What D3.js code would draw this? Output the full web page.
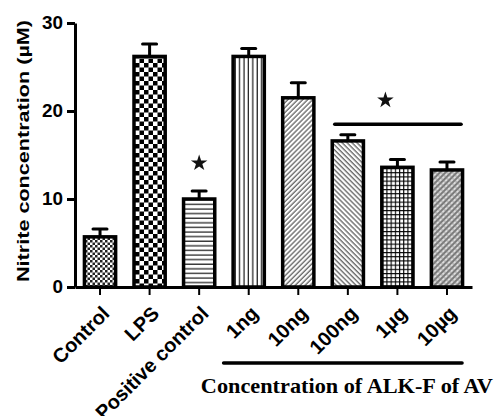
<!DOCTYPE html>
<html>
<head>
<meta charset="utf-8">
<script src="https://cdn.jsdelivr.net/npm/d3@7"></script>
<style>
  body { margin: 0; background: #fff; }
  svg { display: block; }
  .axis text { font-family: "Liberation Sans", Arial, sans-serif; font-weight: bold; fill: #000; }
</style>
</head>
<body>
<div id="chart"></div>
<script>
// data
var categories = ["Control", "LPS", "Positive control", "1ng", "10ng", "100ng", "1\u00b5g", "10\u00b5g"];
var means = [5.7, 26.2, 10.0, 26.2, 21.5, 16.6, 13.6, 13.3];
var errs = [0.9, 1.4, 0.9, 0.9, 1.7, 0.7, 0.9, 0.9];
var patternIds = ["smallChecker", "bigChecker", "hLines", "vLines", "diagUp", "diagDown", "grid", "crossDiag"];
var yTicks = [0, 10, 20, 30];
var starCats = ["Positive control"];
var groupCats = ["1ng", "10ng", "100ng", "1\u00b5g", "10\u00b5g"];
var sigCats = ["100ng", "10\u00b5g"];
var sigLevel = 18.5;

var W = 494, H = 416;

var svg = d3.select("#chart").append("svg")
  .attr("width", W).attr("height", H);

var defs = svg.append("defs");

function pat(id, w, h) {
  return defs.append("pattern").attr("id", id)
    .attr("patternUnits", "userSpaceOnUse")
    .attr("width", w).attr("height", h);
}

// checker patterns
var p = pat("smallChecker", 5, 5);
p.append("rect").attr("width", 5).attr("height", 5).attr("fill", "#fff");
p.append("rect").attr("width", 2.5).attr("height", 2.5).attr("fill", "#222");
p.append("rect").attr("x", 2.5).attr("y", 2.5).attr("width", 2.5).attr("height", 2.5).attr("fill", "#222");

p = pat("bigChecker", 9, 9);
p.append("rect").attr("width", 9).attr("height", 9).attr("fill", "#fff");
p.append("rect").attr("width", 4.5).attr("height", 4.5).attr("fill", "#000");
p.append("rect").attr("x", 4.5).attr("y", 4.5).attr("width", 4.5).attr("height", 4.5).attr("fill", "#000");

// line patterns
p = pat("hLines", 10, 4.6);
p.append("rect").attr("width", 10).attr("height", 4.6).attr("fill", "#fff");
p.append("line").attr("x1", 0).attr("x2", 10).attr("y1", 2).attr("y2", 2).attr("stroke", "#000").attr("stroke-width", 1.1);

p = pat("vLines", 4.4, 10);
p.append("rect").attr("width", 4.4).attr("height", 10).attr("fill", "#fff");
p.append("line").attr("y1", 0).attr("y2", 10).attr("x1", 2).attr("x2", 2).attr("stroke", "#000").attr("stroke-width", 1.1);

p = pat("diagUp", 3.5, 3.5).attr("patternTransform", "rotate(45)");
p.append("rect").attr("width", 3.5).attr("height", 3.5).attr("fill", "#fff");
p.append("line").attr("x1", 1).attr("x2", 1).attr("y1", 0).attr("y2", 3.5).attr("stroke", "#333").attr("stroke-width", 1);

p = pat("diagDown", 3.5, 3.5).attr("patternTransform", "rotate(-45)");
p.append("rect").attr("width", 3.5).attr("height", 3.5).attr("fill", "#fff");
p.append("line").attr("x1", 1).attr("x2", 1).attr("y1", 0).attr("y2", 3.5).attr("stroke", "#333").attr("stroke-width", 1);

p = pat("grid", 4.2, 4.2);
p.append("rect").attr("width", 4.2).attr("height", 4.2).attr("fill", "#fff");
p.append("line").attr("x1", 0).attr("x2", 4.2).attr("y1", 0.5).attr("y2", 0.5).attr("stroke", "#000").attr("stroke-width", 1.2);
p.append("line").attr("y1", 0).attr("y2", 4.2).attr("x1", 0.5).attr("x2", 0.5).attr("stroke", "#000").attr("stroke-width", 1.2);

p = pat("crossDiag", 4, 4).attr("patternTransform", "rotate(45)");
p.append("rect").attr("width", 4).attr("height", 4).attr("fill", "#ddd");
p.append("line").attr("x1", 1).attr("x2", 1).attr("y1", 0).attr("y2", 4).attr("stroke", "#444").attr("stroke-width", 1.3);
p.append("line").attr("x1", 0).attr("x2", 4).attr("y1", 2).attr("y2", 2).attr("stroke", "#888").attr("stroke-width", 0.8);

// scales
var x = d3.scaleBand().domain(categories).range([75, 472])
  .paddingInner(0.31).paddingOuter(0.16);
var y = d3.scaleLinear().domain([0, 30]).range([287, 23]);
var cx = function(d) { return x(d) + x.bandwidth() / 2; };

// bars with upper error bars
var bars = svg.append("g").selectAll("g.bar")
  .data(categories).enter().append("g").attr("class", "bar");

bars.append("line")
  .attr("x1", cx).attr("x2", cx)
  .attr("y1", function(d, i) { return y(means[i]); })
  .attr("y2", function(d, i) { return y(means[i] + errs[i]); })
  .attr("stroke", "#000").attr("stroke-width", 3);
bars.append("line")
  .attr("x1", function(d) { return cx(d) - 7; })
  .attr("x2", function(d) { return cx(d) + 7; })
  .attr("y1", function(d, i) { return y(means[i] + errs[i]); })
  .attr("y2", function(d, i) { return y(means[i] + errs[i]); })
  .attr("stroke", "#000").attr("stroke-width", 3).attr("stroke-linecap", "round");

bars.append("rect")
  .attr("x", function(d) { return x(d) + 1.5; })
  .attr("width", x.bandwidth() - 3)
  .attr("y", function(d, i) { return y(means[i]); })
  .attr("height", function(d, i) { return y(0) - y(means[i]); })
  .attr("fill", function(d, i) { return "url(#" + patternIds[i] + ")"; })
  .attr("stroke", "#000").attr("stroke-width", 3.5);

// axes
var yAxis = svg.append("g").attr("class", "axis")
  .attr("transform", "translate(75,0)")
  .call(d3.axisLeft(y).tickValues(yTicks).tickSize(8).tickSizeOuter(0).tickPadding(4));
yAxis.select(".domain").attr("stroke-width", 3);
yAxis.selectAll(".tick line").attr("stroke-width", 3);
yAxis.selectAll(".tick text").style("font-size", "18px")
  .attr("textLength", function(d) { return String(d).length * 10.5; })
  .attr("lengthAdjust", "spacingAndGlyphs");

var xAxis = svg.append("g").attr("class", "axis")
  .attr("transform", "translate(0,287)")
  .call(d3.axisBottom(x).tickSize(8).tickSizeOuter(0));
xAxis.select(".domain").attr("stroke-width", 3);
xAxis.selectAll(".tick line").attr("stroke-width", 2);
xAxis.selectAll(".tick text")
  .style("font-size", "20px")
  .style("text-anchor", "end")
  .attr("dy", "0.35em")
  .attr("transform", "translate(-2,15) rotate(-45)");

// y title
svg.append("text")
  .attr("transform", "translate(29,151) rotate(-90)")
  .attr("text-anchor", "middle")
  .attr("textLength", 262).attr("lengthAdjust", "spacingAndGlyphs")
  .style("font-family", "Liberation Sans, Arial, sans-serif")
  .style("font-weight", "bold").style("font-size", "16px")
  .text("Nitrite concentration (\u00b5M)");

// stars
var star = d3.symbol().type(d3.symbolStar).size(85);
starCats.forEach(function(c) {
  var i = categories.indexOf(c);
  svg.append("path").attr("d", star())
    .attr("transform", "translate(" + cx(c) + "," + (y(means[i] + errs[i]) - 28) + ")")
    .attr("fill", "#111");
});

// significance line over the higher-dose groups
var sx0 = x(sigCats[0]) + 4, sx1 = x(sigCats[1]) + x.bandwidth() - 3;
svg.append("line")
  .attr("x1", sx0).attr("x2", sx1)
  .attr("y1", y(sigLevel)).attr("y2", y(sigLevel))
  .attr("stroke", "#000").attr("stroke-width", 3.5).attr("stroke-linecap", "round");
svg.append("path").attr("d", star())
  .attr("transform", "translate(" + (cx(categories[6]) - 12) + "," + (y(sigLevel) - 24) + ")")
  .attr("fill", "#111");

// group bracket under the tick labels
var gx0 = x(groupCats[0]) - 8, gx1 = x(groupCats[groupCats.length - 1]) + x.bandwidth() - 2;
svg.append("line")
  .attr("x1", gx0).attr("x2", gx1).attr("y1", 363).attr("y2", 363)
  .attr("stroke", "#000").attr("stroke-width", 3.5).attr("stroke-linecap", "round");
svg.append("text")
  .attr("x", (gx0 + gx1) / 2 + 4).attr("y", 393)
  .attr("text-anchor", "middle")
  .attr("textLength", 292).attr("lengthAdjust", "spacingAndGlyphs")
  .style("font-family", "Liberation Serif, Times New Roman, serif")
  .style("font-weight", "bold").style("font-size", "21px")
  .text("Concentration of ALK-F of AV");
</script>
</body>
</html>
